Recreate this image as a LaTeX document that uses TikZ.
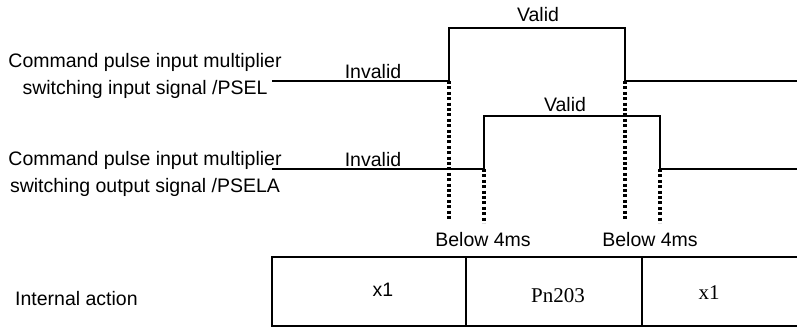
\documentclass[tikz,border=0pt]{standalone}
\usepackage{fontspec}
\setmainfont{Liberation Sans}
\newfontfamily\serifcell{Liberation Serif}
\usetikzlibrary{positioning,calc}
\tikzset{
  sig/.style={draw=black,line width=2.6pt},
  guide/.style={draw=black,line width=3.2pt,dash pattern=on 3pt off 2.4pt},
  lbl/.style={inner sep=0pt,font=\fontsize{19.5}{27}\selectfont,align=center},
  cellline/.style={draw=black,line width=2.2pt},
}
\begin{document}
\begin{tikzpicture}[x=1pt,y=-1pt]
\useasboundingbox (0,0) rectangle (797,328);
% input signal /PSEL
\coordinate (a0) at (272,81);
\coordinate (a1) at (449,81);
\coordinate (a2) at (449,28);
\coordinate (a3) at (625,28);
\coordinate (a4) at (625,81);
\coordinate (a5) at (797,81);
% output signal /PSELA
\coordinate (b0) at (272,169);
\coordinate (b1) at (484,169);
\coordinate (b2) at (484,116);
\coordinate (b3) at (660,116);
\coordinate (b4) at (660,169);
\coordinate (b5) at (797,169);
% ends of the dotted guides
\coordinate (g1) at (449,219);
\coordinate (g2) at (484,223);
\coordinate (g3) at (625,219);
\coordinate (g4) at (660,223);
\draw[sig] (a0)--(a1)--(a2)--(a3)--(a4)--(a5);
\draw[sig] (b0)--(b1)--(b2)--(b3)--(b4)--(b5);
\draw[guide] (a1)--(g1);
\draw[guide] (b1)--(g2);
\draw[guide] (a4)--(g3);
\draw[guide] (b4)--(g4);
% table
\coordinate (t1) at (272,257);
\coordinate (t2) at (466,257);
\coordinate (t3) at (642,257);
\coordinate (t4) at (800,257);
\coordinate (u1) at (272,326);
\coordinate (u2) at (466,326);
\coordinate (u3) at (642,326);
\coordinate (u4) at (800,326);
\draw[cellline] (t4)--(t1)--(u1)--(u4);
\draw[cellline] (t2)--(u2);
\draw[cellline] (t3)--(u3);
% texts
\node[lbl] (insig) at (145,75.5) {Command pulse input multiplier\\switching input signal /PSEL};
\node[lbl] (outsig) at (145,174) {Command pulse input multiplier\\switching output signal /PSELA};
\node[lbl] (inv1) at (373,72) {Invalid};
\node[lbl] (inv2) at (373,160) {Invalid};
\node[lbl] (val1) at (538,15) {Valid};
\node[lbl] (val2) at (565,105) {Valid};
\node[lbl] (dly1) at (483,240) {Below 4ms};
\node[lbl] (dly2) at (650,240) {Below 4ms};
\node[lbl,anchor=west] (act) at (15,299) {Internal action};
\node[lbl] (m1) at (383,290) {x1};
\node[lbl,font=\fontsize{21}{24}\serifcell] (pn) at (558,296) {Pn203};
\node[lbl,font=\fontsize{21}{24}\serifcell] (m2) at (709,293) {x1};
\end{tikzpicture}
\end{document}
